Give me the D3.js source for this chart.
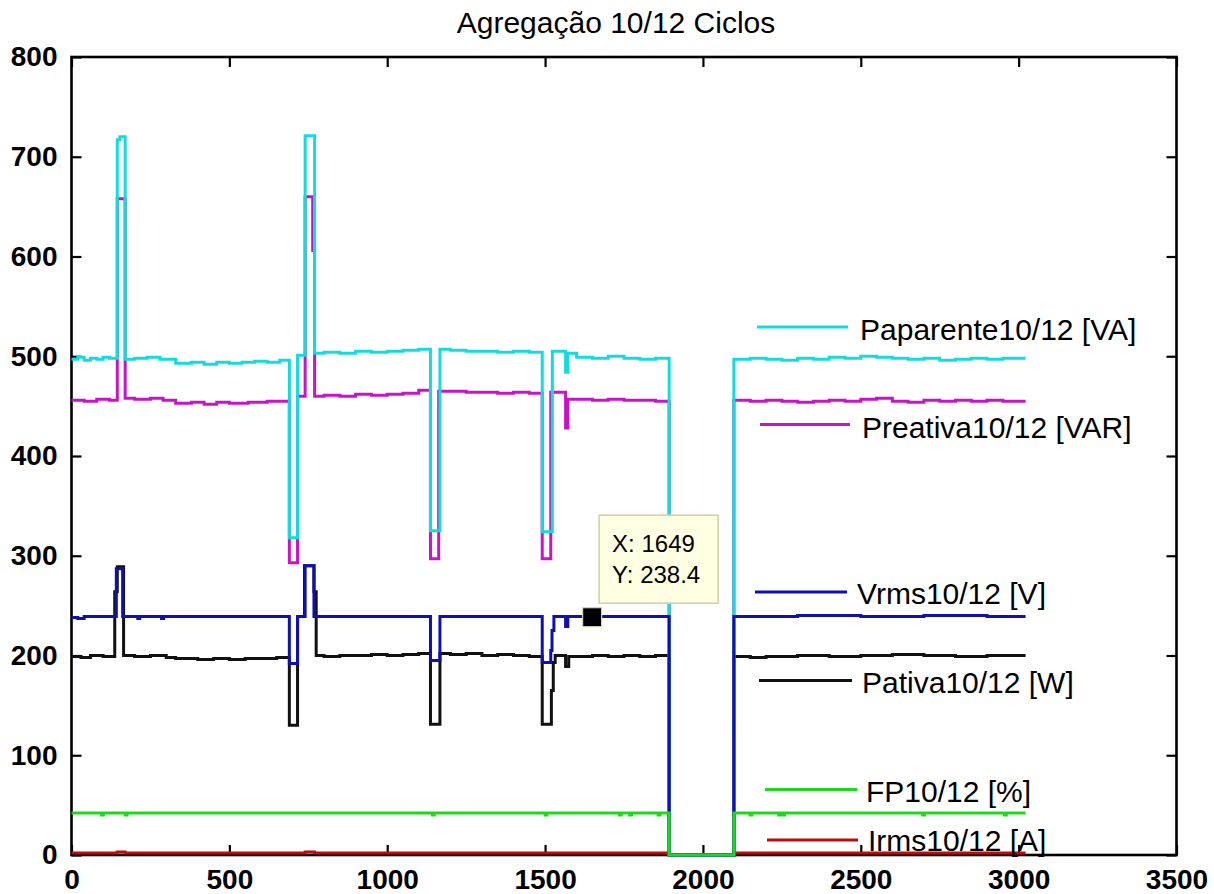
<!DOCTYPE html>
<html><head><meta charset="utf-8">
<script src="https://cdn.jsdelivr.net/npm/d3@7"></script>
<style>
body{margin:0;background:#fff;}
svg{display:block;}
text{font-family:"Liberation Sans",Arial,Helvetica,sans-serif;}
</style>
</head><body>
<svg id="chart" width="1214" height="894"></svg>
<script>
// ---------- data ----------
const chartTitle = "Agregação 10/12 Ciclos";
const xTickValues = [0, 500, 1000, 1500, 2000, 2500, 3000, 3500];
const yTickValues = [0, 100, 200, 300, 400, 500, 600, 700, 800];
const seriesLabels = ["Paparente10/12 [VA]", "Preativa10/12 [VAR]", "Vrms10/12 [V]", "Pativa10/12 [W]", "FP10/12 [%]", "Irms10/12 [A]"];
const seriesColors = ["#14dcdc", "#c814c8", "#1010b0", "#111111", "#1ed81e", "#bc0c0c"];

// [x, value] pairs (step-wise samples)
const paparente = [[0,497],[20,499],[40,496],[60,498],[80,497],[100,499],[120,498],[145,717],[153,720],[170,497],[200,498],[240,499],[280,497],[330,493],[380,494],[420,492],[460,494],[500,493],[540,494],[580,495],[620,494],[660,496],[690,318],[716,501],[740,721],[770,503],[800,504],[850,503],[900,505],[950,504],[1000,505],[1050,506],[1100,507],[1137,325],[1167,507],[1200,506],[1250,505],[1300,505],[1350,504],[1400,505],[1450,504],[1491,324],[1523,505],[1565,484],[1572,503],[1600,499],[1650,498],[1700,500],[1750,498],[1800,497],[1850,498],[1893,0],[2098,497],[2150,498],[2200,497],[2250,496],[2300,498],[2350,497],[2400,499],[2450,498],[2500,500],[2550,499],[2600,498],[2650,497],[2700,498],[2750,496],[2800,497],[2850,498],[2900,497],[2950,498],[3022,498]];
const preativa = [[0,456],[40,455],[80,457],[120,456],[145,658],[170,458],[200,457],[250,458],[290,456],[330,453],[380,454],[420,452],[460,454],[500,453],[560,454],[620,455],[660,455],[690,293],[716,460],[740,660],[764,606],[770,460],[800,461],[850,460],[900,462],[950,461],[1000,462],[1050,463],[1100,466],[1137,297],[1163,465],[1200,465],[1250,464],[1300,464],[1350,463],[1400,464],[1450,463],[1491,297],[1518,464],[1565,428],[1572,457],[1600,457],[1650,456],[1700,457],[1750,456],[1800,456],[1850,455],[1893,0],[2098,456],[2150,455],[2200,456],[2250,455],[2300,454],[2350,455],[2400,456],[2450,455],[2500,457],[2550,458],[2600,455],[2650,454],[2700,456],[2750,455],[2800,456],[2850,455],[2900,456],[2950,455],[3022,455]];
const vrms = [[0,238],[20,237],[40,239],[142,287],[162,239],[210,237],[216,239],[285,237],[292,239],[400,239],[600,239],[690,192],[716,239],[740,290],[768,239],[900,239],[1137,195],[1167,239],[1300,239],[1491,193],[1518,205],[1522,225],[1528,239],[1565,229],[1572,239],[1700,239],[1893,0],[2098,239],[2300,240],[2500,239],[2700,240],[2900,239],[3022,239]];
const pativa = [[0,199],[30,198],[60,200],[100,199],[137,264],[145,289],[165,200],[200,199],[250,200],[300,198],[330,197],[400,196],[450,197],[500,196],[550,197],[600,197],[650,198],[690,130],[716,239],[738,290],[768,264],[775,200],[800,199],[850,200],[900,200],[950,201],[1000,200],[1050,201],[1100,202],[1137,131],[1167,202],[1200,201],[1250,202],[1300,200],[1350,201],[1400,200],[1450,199],[1491,131],[1520,165],[1526,193],[1532,200],[1565,189],[1575,199],[1600,199],[1650,200],[1700,199],[1750,200],[1800,199],[1850,200],[1893,0],[2098,199],[2150,198],[2200,199],[2300,200],[2400,199],[2500,200],[2600,201],[2700,200],[2800,199],[2900,200],[3022,200]];
const fp = [[0,42],[95,40],[101,42],[170,40],[176,42],[1143,40],[1149,42],[1500,40],[1506,42],[1735,40],[1741,42],[1768,40],[1774,42],[1858,40],[1864,42],[1893,0],[2098,42],[2149,40],[2155,42],[2240,40],[2246,42],[2253,40],[2259,42],[2696,40],[2702,42],[2955,40],[2961,42],[3022,42]];
const irms = [[0,2.1],[145,3.0],[170,2.1],[740,3.0],[770,2.1],[1893,0],[2098,2.1],[3022,2.1]];

const dataTip = {x: 1649, y: 238.4};

// ---------- layout ----------
const W = 1214, H = 894;
const m = {left: 71.5, right: 1214 - 1176.5, top: 57, bottom: 894 - 855};
const svg = d3.select("#chart");

const x = d3.scaleLinear().domain([0, 3500]).range([m.left, W - m.right]);
const y = d3.scaleLinear().domain([0, 800]).range([H - m.bottom, m.top]);

// title
svg.append("text").attr("x", 616).attr("y", 33).attr("text-anchor", "middle")
  .attr("font-size", 30).attr("fill", "#000").text(chartTitle);

// axes (ticks inward on all four sides)
const tickLen = 10;
const axB = svg.append("g").attr("transform", `translate(0,${H - m.bottom})`)
  .call(d3.axisBottom(x).tickValues(xTickValues).tickSizeInner(-tickLen).tickSizeOuter(0).tickPadding(14).tickFormat(d3.format("d")));
const axT = svg.append("g").attr("transform", `translate(0,${m.top})`)
  .call(d3.axisTop(x).tickValues(xTickValues).tickSizeInner(-tickLen).tickSizeOuter(0).tickFormat(""));
const axL = svg.append("g").attr("transform", `translate(${m.left},0)`)
  .call(d3.axisLeft(y).tickValues(yTickValues).tickSizeInner(-tickLen).tickSizeOuter(0).tickPadding(14).tickFormat(d3.format("d")));
const axR = svg.append("g").attr("transform", `translate(${W - m.right},0)`)
  .call(d3.axisRight(y).tickValues(yTickValues).tickSizeInner(-tickLen).tickSizeOuter(0).tickFormat(""));
[axB, axT, axL, axR].forEach(g => {
  g.select(".domain").remove();
  g.selectAll(".tick line").attr("stroke", "#000").attr("stroke-width", 2.2);
  g.selectAll(".tick text").attr("font-size", 28).attr("font-weight", "bold").attr("fill", "#000")
   .attr("font-family", '"Liberation Sans",Arial,sans-serif');
});
axB.selectAll(".tick text").attr("dy", "0.71em");
svg.append("rect").attr("x", m.left).attr("y", m.top)
  .attr("width", W - m.left - m.right).attr("height", H - m.top - m.bottom)
  .attr("fill", "none").attr("stroke", "#000").attr("stroke-width", 2.6);

// lines
const line = d3.line().x(d => x(d[0])).y(d => y(d[1])).curve(d3.curveStepAfter);
const seriesData = [paparente, preativa, vrms, pativa, fp, irms];
const drawOrder = [5, 3, 1, 0, 2, 4];
const gLines = svg.append("g");
drawOrder.forEach(i => {
  gLines.append("path").datum(seriesData[i]).attr("d", line)
    .attr("fill", "none").attr("stroke", seriesColors[i]).attr("stroke-width", 3)
    .attr("stroke-linejoin", "miter");
});

// legend (no box)
const legendPos = [
  {lx0: 757, lx1: 848, ly: 327, tx: 860, ty: 339.5},
  {lx0: 760, lx1: 850, ly: 424.5, tx: 862, ty: 437.5},
  {lx0: 755, lx1: 847, ly: 592, tx: 857, ty: 604},
  {lx0: 759, lx1: 852, ly: 680.5, tx: 862, ty: 693},
  {lx0: 765, lx1: 857, ly: 789.5, tx: 866, ty: 802},
  {lx0: 767, lx1: 858, ly: 840, tx: 868, ty: 850.5}
];
const gLeg = svg.append("g");
seriesLabels.forEach((lab, i) => {
  const p = legendPos[i];
  gLeg.append("line").attr("x1", p.lx0).attr("x2", p.lx1).attr("y1", p.ly).attr("y2", p.ly)
    .attr("stroke", seriesColors[i]).attr("stroke-width", 3);
  gLeg.append("text").attr("x", p.tx).attr("y", p.ty).attr("font-size", 30).attr("fill", "#000").text(lab);
});

// data tip
const mx = x(dataTip.x), my = y(dataTip.y);
const gTip = svg.append("g");
gTip.append("rect").attr("x", mx + 7).attr("y", my - 102).attr("width", 119).attr("height", 88)
  .attr("fill", "#ffffe1").attr("stroke", "#cfcfa8").attr("stroke-width", 1.5);
gTip.append("text").attr("x", mx + 20).attr("y", my - 65).attr("font-size", 24).attr("fill", "#000")
  .text("X: " + dataTip.x);
gTip.append("text").attr("x", mx + 20).attr("y", my - 34).attr("font-size", 24).attr("fill", "#000")
  .text("Y: " + dataTip.y);
gTip.append("rect").attr("x", mx - 9.5).attr("y", my - 9.5).attr("width", 19).attr("height", 19)
  .attr("fill", "#000").attr("stroke", "#d8d8a0").attr("stroke-width", 1.2);
</script>
</body></html>
